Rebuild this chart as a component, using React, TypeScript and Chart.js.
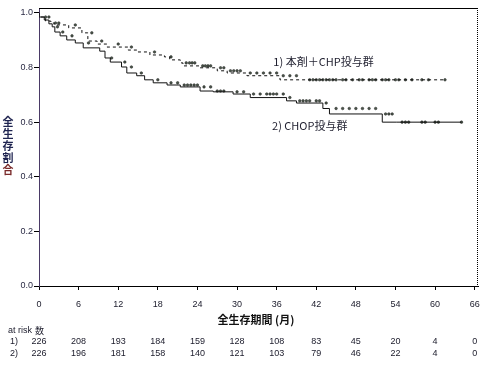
import React, { useEffect, useRef } from "react";
import { Chart, registerables } from "chart.js";

Chart.register(...registerables);

// Kaplan–Meier step data (event times in months, survival after each step)
const arm1Times = [0, 1.0, 1.8, 2.3, 4.5, 6.5, 7.4, 8.8, 10.3, 13.5, 15, 16.8, 19.0, 19.8, 21.4, 21.8, 24.4, 27, 28.5, 31.5, 36.5, 40.3, 61.5];
const arm1Surv = [1.0, 0.985, 0.97, 0.963, 0.956, 0.945, 0.927, 0.897, 0.886, 0.875, 0.864, 0.857, 0.846, 0.839, 0.828, 0.817, 0.806, 0.799, 0.788, 0.78, 0.77, 0.755, 0.755];
const arm2Times = [0, 0.8, 1.5, 2.0, 2.4, 3.2, 4.2, 5.5, 6.7, 9.2, 10.0, 10.8, 12.5, 13.3, 14.8, 16.0, 17.3, 19.4, 21.4, 24.4, 26.4, 29.4, 32, 37.5, 39, 43, 44, 52, 54.2, 64];
const arm2Surv = [1.0, 0.985, 0.974, 0.96, 0.949, 0.93, 0.916, 0.901, 0.89, 0.872, 0.86, 0.835, 0.82, 0.802, 0.78, 0.77, 0.755, 0.744, 0.736, 0.729, 0.714, 0.711, 0.703, 0.69, 0.678, 0.67, 0.65, 0.63, 0.6, 0.6];

// censoring marks (months)
const arm1Censor = [1.5, 2.5, 3, 5.5, 8, 9.5, 12, 14, 17.5, 20, 22.3, 22.8, 23.2, 23.6, 24.8, 25.2, 25.6, 26, 27.5, 28, 29, 29.5, 30, 30.5, 32, 33, 34, 35, 36, 37, 38, 39, 41, 41.5, 42, 42.5, 43, 43.5, 44, 44.5, 45, 46, 46.5, 47.5, 48.5, 49, 50, 50.5, 51, 52, 52.5, 53, 54, 54.5, 55.5, 56.5, 58, 59, 61.5];
const arm2Censor = [1, 2.8, 3.6, 5, 7.5, 11, 13, 14, 15.5, 18, 20, 21, 22, 22.5, 23, 23.5, 24, 25, 26, 27, 27.5, 28, 30, 31, 32.5, 33.5, 34.5, 35, 35.5, 36, 37, 38, 39.5, 40, 40.5, 41, 42, 42.5, 43.5, 45, 46, 47, 48, 49, 50, 51, 52.5, 53, 53.5, 55, 55.5, 56, 58, 58.5, 60, 60.5, 64];

const xTicks = [0, 6, 12, 18, 24, 30, 36, 42, 48, 54, 60, 66];
const atRisk1 = [226, 208, 193, 184, 159, 128, 108, 83, 45, 20, 4, 0];
const atRisk2 = [226, 196, 181, 158, 140, 121, 103, 79, 46, 22, 4, 0];

const yTitleChars = ["全", "生", "存", "割", "合"];
const xTitle = "全生存期間 (月)";
const arm1Label = "1) 本剤＋CHP投与群";
const arm2Label = "2) CHOP投与群";
const atRiskHeader = "at risk";
const atRiskHeaderCjk = "数";
const rowLabels = ["1)", "2)"];

function survAt(times: number[], surv: number[], t: number) {
  let v = surv[0];
  for (let i = 0; i < times.length; i++) {
    if (times[i] <= t) v = surv[i];
  }
  return v;
}

const FONT = "'Liberation Sans', Arial, sans-serif";
const CJK = "'Noto Sans CJK JP', 'Noto Sans', sans-serif";

const overlay = {
  id: "overlay",
  afterDraw(chart: any) {
    const ctx = chart.ctx;
    const { left, right, top, bottom } = chart.chartArea;
    const xs = chart.scales.x;
    const ys = chart.scales.y;
    ctx.save();
    // top border
    ctx.strokeStyle = "#000";
    ctx.lineWidth = 1;
    ctx.beginPath();
    ctx.moveTo(left, top + 0.5);
    ctx.lineTo(right, top + 0.5);
    ctx.stroke();
    // right border dotted
    ctx.setLineDash([1, 1]);
    ctx.beginPath();
    ctx.moveTo(right - 0.5, top);
    ctx.lineTo(right - 0.5, bottom);
    ctx.stroke();
    ctx.setLineDash([]);

    // curve labels
    ctx.fillStyle = "#1e1e2e";
    ctx.font = "11px " + CJK;
    ctx.textAlign = "left";
    ctx.textBaseline = "middle";
    ctx.fillText(arm1Label, xs.getPixelForValue(35.5), ys.getPixelForValue(0.82));
    ctx.fillText(arm2Label, xs.getPixelForValue(35.3), ys.getPixelForValue(0.587));

    // y title (vertical)
    ctx.font = "bold 11px " + CJK;
    ctx.textAlign = "center";
    yTitleChars.forEach((c, i) => {
      ctx.fillStyle = i === yTitleChars.length - 1 ? "#7a2a2a" : "#1f2450";
      ctx.fillText(c, 8, 122 + i * 12);
    });

    // x title
    ctx.fillStyle = "#111";
    ctx.font = "bold 11px " + CJK;
    ctx.fillText(xTitle, 256, 320);

    // at-risk table
    ctx.font = "9px " + FONT;
    ctx.fillStyle = "#1a1a2a";
    ctx.textAlign = "left";
    ctx.fillText(atRiskHeader, 8, 331);
    ctx.font = "9px " + CJK;
    ctx.fillText(atRiskHeaderCjk, 35, 331);
    ctx.font = "9px " + FONT;
    ctx.textAlign = "center";
    ctx.fillText(rowLabels[0], 14, 342);
    ctx.fillText(rowLabels[1], 14, 354);
    xTicks.forEach((t, i) => {
      const px = xs.getPixelForValue(t);
      ctx.fillText(String(atRisk1[i]), px, 342);
      ctx.fillText(String(atRisk2[i]), px, 354);
    });
    ctx.restore();
  },
};

export default function App() {
  const ref = useRef<HTMLCanvasElement>(null);
  useEffect(() => {
    if (!ref.current) return;
    const line1 = arm1Times.map((t, i) => ({ x: t, y: arm1Surv[i] }));
    const line2 = arm2Times.map((t, i) => ({ x: t, y: arm2Surv[i] }));
    const cens1 = arm1Censor.map((t) => ({ x: t, y: survAt(arm1Times, arm1Surv, t) }));
    const cens2 = arm2Censor.map((t) => ({ x: t, y: survAt(arm2Times, arm2Surv, t) }));
    const chart = new Chart(ref.current, {
      type: "line",
      data: {
        datasets: [
          {
            data: line1,
            borderColor: "#111",
            borderWidth: 1,
            borderDash: [3, 3],
            stepped: "after",
            pointRadius: 0,
            fill: false,
          },
          {
            data: line2,
            borderColor: "#111",
            borderWidth: 1,
            stepped: "after",
            pointRadius: 0,
            fill: false,
          },
          {
            data: cens1,
            showLine: false,
            pointRadius: 1.3,
            pointBackgroundColor: "#4a564a",
            pointBorderColor: "#222",
            pointBorderWidth: 0.5,
          },
          {
            data: cens2,
            showLine: false,
            pointRadius: 1.3,
            pointBackgroundColor: "#4a564a",
            pointBorderColor: "#222",
            pointBorderWidth: 0.5,
          },
        ],
      },
      options: {
        animation: false,
        responsive: false,
        events: [],
        layout: { padding: { top: 8, right: 11, left: 0, bottom: 0 } },
        plugins: { legend: { display: false }, tooltip: { enabled: false }, title: { display: false } },
        scales: {
          x: {
            type: "linear",
            min: 0,
            max: 66.5,
            afterFit: (s: any) => {
              s.height = 81;
            },
            grid: { drawOnChartArea: false, drawTicks: true, tickLength: 4, color: "#000" },
            border: { display: true, color: "#000", width: 1 },
            ticks: {
              stepSize: 6,
              includeBounds: false,
              autoSkip: false,
              maxRotation: 0,
              padding: 9,
              color: "#1a1a2a",
              font: { family: FONT, size: 9 },
            },
          },
          y: {
            type: "linear",
            min: 0,
            max: 1.018,
            afterFit: (s: any) => {
              s.width = 39;
            },
            grid: { drawOnChartArea: false, drawTicks: true, tickLength: 5, color: "#000" },
            border: { display: true, color: "#4a3a66", width: 1 },
            ticks: {
              stepSize: 0.2,
              includeBounds: false,
              padding: 1,
              color: "#2a2a44",
              font: { family: FONT, size: 9 },
              callback: (v: any) => Number(v).toFixed(1),
            },
          },
        },
      },
      plugins: [overlay],
    });
    return () => chart.destroy();
  }, []);
  return (
    <div style={{ position: "absolute", left: 0, top: 0, width: 489, height: 367, background: "#fff" }}>
      <canvas ref={ref} width={489} height={367} style={{ display: "block" }} />
    </div>
  );
}
